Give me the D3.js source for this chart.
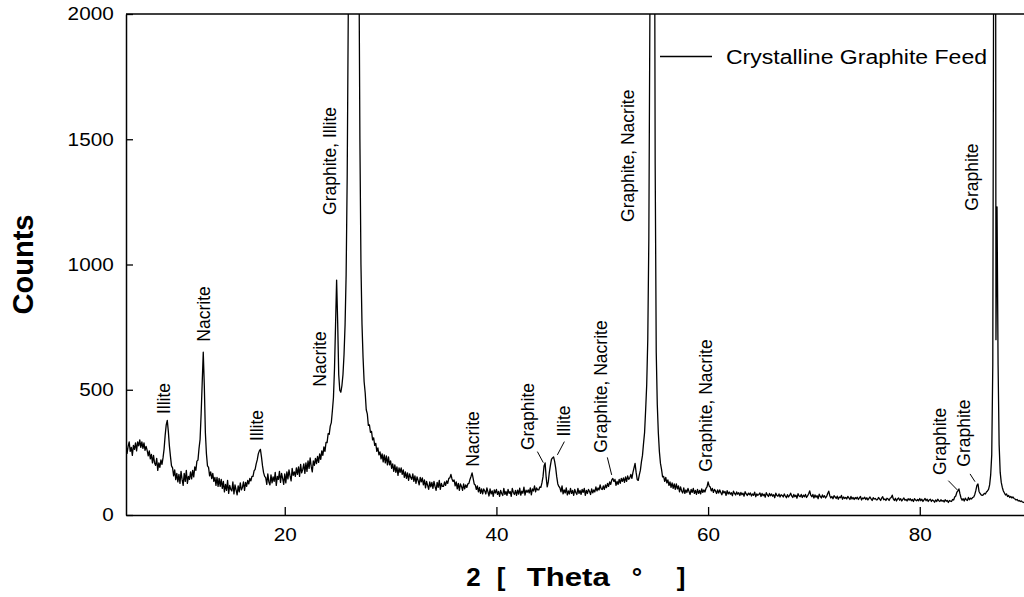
<!DOCTYPE html>
<html>
<head>
<meta charset="utf-8">
<script src="https://cdn.jsdelivr.net/npm/d3@7"></script>
<style>
  html, body { margin: 0; padding: 0; background: #fff; }
  svg { display: block; font-family: "Liberation Sans", Arial, sans-serif; }
</style>
</head>
<body>
<svg id="chart" width="1024" height="597"></svg>
<script>
// XRD scan of the crystalline graphite feed, 0.1° step.
// Each row: [start 2θ, counts at start, start+0.1, ... start+0.9]
const scanStep = 0.1;
const scanRows = [
  [5, [282,246,274,292,254,270,238,278,262,288]],
  [6, [256,292,276,300,270,292,266,288,258,274]],
  [7, [258,236,256,224,242,208,238,208,198,226]],
  [8, [178,208,190,220,202,229,264,318,360,378]],
  [9, [334,276,234,196,188,156,180,141,166,132]],
  [10, [162,126,174,142,118,166,134,178,126,154]],
  [11, [142,172,144,178,152,192,178,215,219,266]],
  [12, [302,404,528,650,516,328,244,196,190,156]],
  [13, [172,145,166,134,150,118,150,114,146,114]],
  [14, [142,106,134,92,122,98,138,86,118,102]],
  [15, [96,132,84,120,100,80,116,92,128,100]],
  [16, [110,132,98,130,114,138,124,146,136,154]],
  [17, [154,176,182,204,220,244,256,262,232,196]],
  [18, [169,154,149,122,164,132,120,160,128,152]],
  [19, [134,170,118,154,142,174,130,166,146,122]],
  [20, [164,128,172,144,180,156,136,186,158,172]],
  [21, [154,188,162,192,154,202,168,182,204,166]],
  [22, [208,174,216,186,228,194,172,216,198,226]],
  [23, [205,234,210,244,222,256,238,272,254,290]],
  [24, [289,325,322,355,369,416,468,584,760,938]],
  [25, [770,560,498,490,516,560,640,760,960,1350]],
  [26, [2000,3000,4200,6000,8000,9000,8000,6000,4600,3200]],
  [27, [2300,1500,1000,760,628,532,488,420,404,358]],
  [28, [360,330,334,300,308,278,286,254,268,240]],
  [29, [252,224,244,212,240,208,236,200,232,200]],
  [30, [216,186,204,174,200,170,192,158,188,170]],
  [31, [188,162,180,150,172,146,168,138,164,150]],
  [32, [142,164,134,156,126,152,138,120,150,132]],
  [33, [148,120,140,108,134,118,102,132,112,130]],
  [34, [106,134,114,98,130,110,138,102,126,114]],
  [35, [114,132,118,136,126,146,148,162,144,134]],
  [36, [140,116,132,104,126,98,124,114,98,124]],
  [37, [104,120,110,124,126,142,154,168,146,124]],
  [38, [120,102,116,92,110,86,104,84,104,96]],
  [39, [84,108,92,76,104,84,96,74,100,88]],
  [40, [102,82,94,74,98,86,78,106,82,94]],
  [41, [78,102,86,94,74,106,90,82,98,78]],
  [42, [99,83,107,79,95,87,111,79,99,91]],
  [43, [100,88,108,80,104,96,116,92,108,100]],
  [44, [100,112,110,128,152,196,208,150,112,132]],
  [45, [170,198,222,228,232,214,188,152,124,114]],
  [46, [108,92,116,84,100,88,108,80,96,84]],
  [47, [106,86,98,78,102,90,82,106,86,98]],
  [48, [82,102,90,106,78,98,86,102,94,82]],
  [49, [104,88,100,92,112,96,108,100,120,104]],
  [50, [102,116,102,120,109,126,114,132,122,140]],
  [51, [146,134,142,118,134,122,142,126,146,134]],
  [52, [148,130,152,134,156,142,148,162,146,170]],
  [53, [188,206,170,142,138,160,178,212,238,286]],
  [54, [330,420,520,700,1100,2000,6000,9000,6500,3200]],
  [55, [1400,650,440,326,252,206,182,152,154,134]],
  [56, [150,128,140,118,132,110,128,106,124,102]],
  [57, [124,104,116,92,112,96,88,108,86,100]],
  [58, [90,106,94,82,102,90,106,86,98,82]],
  [59, [102,86,98,84,104,90,100,92,106,112]],
  [60, [132,116,112,96,106,90,102,96,86,100]],
  [61, [88,100,90,81,97,88,94,78,97,84]],
  [62, [92,83,89,77,95,86,80,92,83,89]],
  [63, [78,90,81,87,75,93,84,78,87,81]],
  [64, [88,76,84,79,91,73,84,79,82,88]],
  [65, [74,86,77,83,71,89,80,74,86,77]],
  [66, [84,75,81,69,87,78,75,84,72,81]],
  [67, [78,72,84,76,69,81,72,78,87,76]],
  [68, [70,82,73,79,67,85,76,73,82,70]],
  [69, [79,73,82,70,76,85,96,79,73,82]],
  [70, [68,80,71,77,65,83,74,68,80,71]],
  [71, [77,68,74,86,95,77,68,74,65,77]],
  [72, [72,66,75,63,72,69,78,63,72,66]],
  [73, [70,64,74,68,62,74,64,70,62,70]],
  [74, [65,71,62,68,74,60,68,65,71,62]],
  [75, [69,60,66,72,64,58,69,64,66,60]],
  [76, [61,70,64,58,67,73,61,64,58,67]],
  [77, [64,58,67,70,79,64,58,67,56,64]],
  [78, [68,59,65,56,62,68,59,62,56,65]],
  [79, [60,65,57,62,54,65,60,57,62,57]],
  [80, [66,57,63,54,60,66,57,63,54,60]],
  [81, [63,54,60,57,51,60,54,63,57,54]],
  [82, [61,55,58,52,61,55,58,50,58,55]],
  [83, [54,62,60,72,76,90,96,104,84,68]],
  [84, [59,65,56,67,61,58,70,61,67,64]],
  [85, [70,72,82,98,118,124,94,86,80,78]],
  [86, [80,86,84,92,96,102,120,160,240,600]],
  [87, [2600,6000,700,1230,600,280,170,130,110,96]],
  [88, [88,80,84,74,78,70,74,68,72,66]],
  [89, [64,60,62,56,58,54,56,52,50,52]],
  [90, [48]]
];
const scan = scanRows.flatMap(([start, vals]) => vals.map((c, i) => [start + i * scanStep, c]));

// Axis settings
const xDomain = [5, 90];
const yDomain = [0, 2000];
const xTicks = [20, 40, 60, 80];
const yTicks = [0, 500, 1000, 1500, 2000];

// Phase labels: text, 2θ of the label, counts where the label starts
const peakLabels = [
  ["Illite", 8.56, 403],
  ["Nacrite", 12.34, 692],
  ["Illite", 17.41, 295],
  ["Nacrite", 23.36, 512],
  ["Graphite, Illite", 24.23, 1198],
  ["Nacrite", 37.82, 193],
  ["Graphite", 42.96, 259],
  ["Illite", 46.39, 313],
  ["Graphite, Nacrite", 49.88, 249],
  ["Graphite, Nacrite", 52.45, 1170],
  ["Graphite, Nacrite", 59.83, 173],
  ["Graphite", 84.94, 1215],
  ["Graphite", 81.89, 160],
  ["Graphite", 84.16, 193]
];

// Leader ticks from a label to its peak: [2θ1, counts1, 2θ2, counts2]
const leaders = [
  [43.87, 253, 44.43, 209],
  [46.42, 293, 45.76, 240],
  [50.48, 230, 50.89, 160],
  [82.70, 137, 83.55, 100],
  [84.75, 164, 85.22, 133]
];

const seriesName = "Crystalline Graphite Feed";

const svg = d3.select("#chart");
const margin = { left: 126, top: 14 };
const plotW = 899.6, plotH = 501;

const x = d3.scaleLinear().domain(xDomain).range([0, plotW]);
const y = d3.scaleLinear().domain(yDomain).range([plotH, 0]);

const g = svg.append("g").attr("transform", `translate(${margin.left},${margin.top})`);

g.append("clipPath").attr("id", "plotClip")
  .append("rect").attr("x", 0).attr("y", 0).attr("width", plotW).attr("height", plotH);

// Diffraction trace
const line = d3.line().x(d => x(d[0])).y(d => y(d[1]));
g.append("path")
  .datum(scan)
  .attr("clip-path", "url(#plotClip)")
  .attr("fill", "none")
  .attr("stroke", "#000")
  .attr("stroke-width", 1.3)
  .attr("stroke-linejoin", "round")
  .attr("d", line);

// Axes with inward ticks
const xAxis = g.append("g")
  .attr("transform", `translate(0,${plotH})`)
  .call(d3.axisBottom(x).tickValues(xTicks).tickSizeInner(-8).tickSizeOuter(0).tickPadding(13));
const yAxis = g.append("g")
  .call(d3.axisLeft(y).tickValues(yTicks).tickFormat(d3.format("d")).tickSizeInner(-7).tickSizeOuter(0).tickPadding(11));

[xAxis, yAxis].forEach(a => {
  a.select(".domain").attr("stroke", "#000").attr("stroke-width", 1.5);
  a.selectAll(".tick line").attr("stroke", "#000").attr("stroke-width", 1.3);
  a.selectAll(".tick text")
    .attr("fill", "#000")
    .style("font-family", '"Liberation Sans", Arial, sans-serif')
    .style("font-size", "18.5px")
    .attr("transform", "scale(1.12,1)");
});

// Top frame line
g.append("line")
  .attr("x1", 0).attr("x2", plotW).attr("y1", 0).attr("y2", 0)
  .attr("stroke", "#000").attr("stroke-width", 1.5);

// Phase labels (vertical)
g.selectAll("text.peak")
  .data(peakLabels)
  .join("text")
  .attr("class", "peak")
  .attr("transform", d => `translate(${x(d[1])},${y(d[2])}) rotate(-90)`)
  .attr("dy", "0.35em")
  .style("font-size", "17.5px")
  .attr("fill", "#000")
  .text(d => d[0]);

g.selectAll("line.leader")
  .data(leaders)
  .join("line")
  .attr("class", "leader")
  .attr("x1", d => x(d[0])).attr("y1", d => y(d[1]))
  .attr("x2", d => x(d[2])).attr("y2", d => y(d[3]))
  .attr("stroke", "#000").attr("stroke-width", 1);

// Legend
const legend = svg.append("g").attr("transform", "translate(660,56.5)");
legend.append("line").attr("x1", 0).attr("x2", 52).attr("y1", 0).attr("y2", 0)
  .attr("stroke", "#000").attr("stroke-width", 1.3);
legend.append("text")
  .attr("x", 66).attr("y", 7)
  .attr("textLength", 261).attr("lengthAdjust", "spacingAndGlyphs")
  .style("font-size", "20px").attr("fill", "#000")
  .text(seriesName);

// Axis titles
const cx = margin.left + plotW / 2;
const xt = svg.append("text")
  .attr("y", 586)
  .style("font-size", "26px").style("font-weight", "bold").attr("fill", "#000");
xt.append("tspan").attr("x", cx - 109.5).text("2");
xt.append("tspan").attr("x", cx - 79).text("[");
xt.append("tspan").attr("x", cx - 49).attr("textLength", 83).attr("lengthAdjust", "spacingAndGlyphs").text("Theta");
xt.append("tspan").attr("x", cx + 56).text("°");
xt.append("tspan").attr("x", cx + 101).text("]");

svg.append("text")
  .attr("transform", `translate(22.5,${margin.top + plotH / 2}) rotate(-90)`)
  .attr("text-anchor", "middle")
  .attr("dy", "0.35em")
  .style("font-size", "29px").style("font-weight", "bold").attr("fill", "#000")
  .text("Counts");
</script>
</body>
</html>
